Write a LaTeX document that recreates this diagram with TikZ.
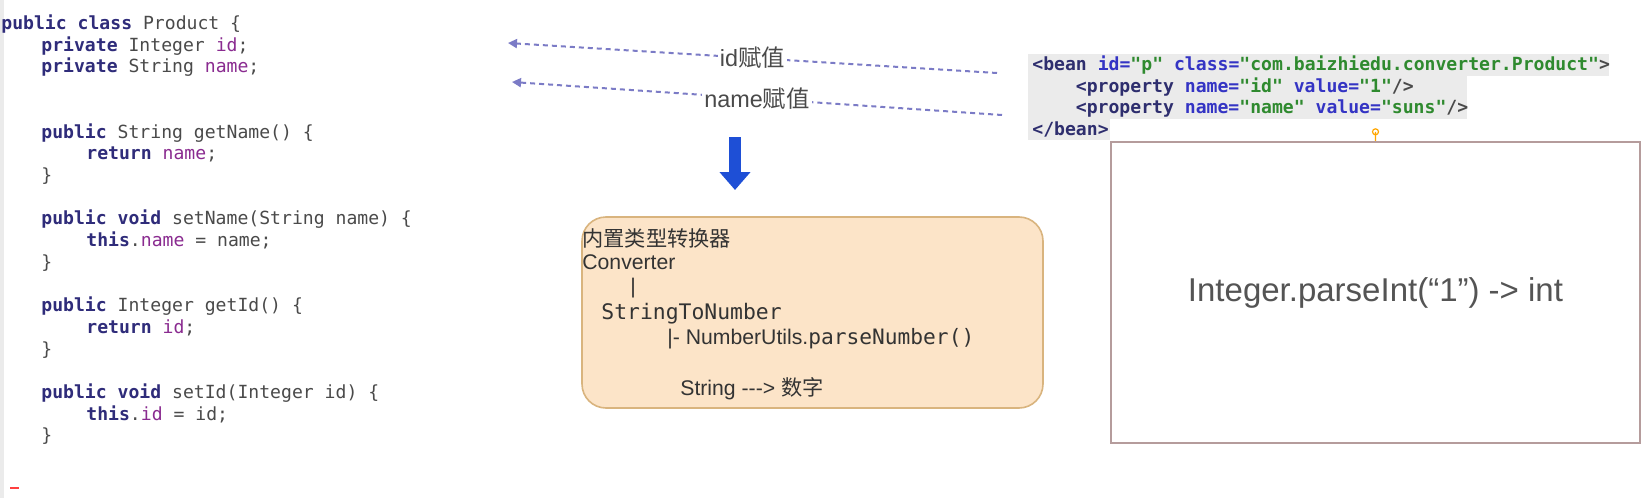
\documentclass[tikz,border=0pt]{standalone}
\usepackage{fontspec}
\setmainfont{Liberation Sans}
\setmonofont{DejaVu Sans Mono}
\newfontfamily\cjk{Noto Sans CJK SC}
\usetikzlibrary{arrows.meta, positioning}
\definecolor{jvKw}{HTML}{2F2C7A}
\definecolor{jvFld}{HTML}{8A2B90}
\definecolor{jvTxt}{HTML}{4A4A4A}
\definecolor{xmAttr}{HTML}{3434C4}
\definecolor{xmVal}{HTML}{2F8A2F}
\definecolor{xmTag}{HTML}{2E2E6E}
\definecolor{xmHl}{HTML}{EBEBEB}
\definecolor{dashBlue}{HTML}{7B7BC6}
\definecolor{tipBlue}{HTML}{3535D0}
\definecolor{downBlue}{HTML}{1E4FD6}
\definecolor{convFill}{HTML}{FCE4C8}
\definecolor{convLine}{HTML}{D9B47E}
\definecolor{boxLine}{HTML}{B59C9C}
\newcommand{\jkw}[1]{{\bfseries\color{jvKw}#1}}
\newcommand{\jfd}[1]{{\color{jvFld}#1}}
\newcommand{\xat}[1]{{\color{xmAttr}#1}}
\newcommand{\xvl}[1]{{\color{xmVal}#1}}
\newcommand{\xtg}[1]{{\color{xmTag}#1}}

\begin{document}
\begin{tikzpicture}[
  x=0.5pt, y=-0.5pt,
  code/.style={anchor=base west, inner sep=0pt, text=jvTxt,
               font=\ttfamily\fontsize{9.05}{11}\selectfont},
  xml/.style={code, font=\ttfamily\bfseries\fontsize{9.05}{11}\selectfont},
  lbl/.style={fill=white, inner sep=1pt, text=jvTxt,
              font=\fontsize{11.7}{14}\selectfont},
  assign/.style={-{Triangle[length=4.5pt, width=4.5pt]}, color=dashBlue,
                 line width=1pt, dash pattern=on 2.5pt off 2pt},
  bigdown/.style={-{Triangle[length=9pt, width=15pt]}, color=downBlue,
                  line width=6pt},
  convbox/.style={draw=convLine, fill=convFill, line width=0.8pt,
                  rounded corners=12pt, minimum width=230.5pt,
                  minimum height=95.5pt},
  convtxt/.style={anchor=base west, inner sep=0pt, text=black!80,
                  font=\fontsize{10.6}{13}\selectfont},
  convmono/.style={convtxt, font=\ttfamily\fontsize{10.7}{13}\selectfont}
]
  \useasboundingbox (0,0) rectangle (1646,498);
  \fill[white] (0,0) rectangle (1646,498);
  \clip (0,0) rectangle (1646,498);
  \fill[black!8] (0,0) rectangle (4,498);

  % Java class
  \node[code] (j1) at (1,29.5) {\jkw{public class} Product \{};
  \node[code] (j2) at (41,51.2) {\jkw{private} Integer \jfd{id};};
  \node[code] (j3) at (41,72.9) {\jkw{private} String \jfd{name};};
  \node[code] (j4) at (41,138) {\jkw{public} String getName() \{};
  \node[code] (j5) at (86,159.7) {\jkw{return} \jfd{name};};
  \node[code] (j6) at (41,181.4) {\}};
  \node[code] (j7) at (41,224.8) {\jkw{public void} setName(String name) \{};
  \node[code] (j8) at (86,246.5) {\jkw{this}.\jfd{name} = name;};
  \node[code] (j9) at (41,268.2) {\}};
  \node[code] (j10) at (41,311.6) {\jkw{public} Integer getId() \{};
  \node[code] (j11) at (86,333.3) {\jkw{return} \jfd{id};};
  \node[code] (j12) at (41,355) {\}};
  \node[code] (j13) at (41,398.4) {\jkw{public void} setId(Integer id) \{};
  \node[code] (j14) at (86,420.1) {\jkw{this}.\jfd{id} = id;};
  \node[code] (j15) at (41,441.8) {\}};
  \draw[red!75, line width=1pt] (10,488) -- (19,488);

  % bean definition
  \fill[xmHl] (1028,54) rectangle (1609,76);
  \fill[xmHl] (1028,76) rectangle (1467,119);
  \fill[xmHl] (1028,119) rectangle (1110,140);
  \node[xml] (x1) at (1032,70.5) {\xtg{<bean} \xat{id=}\xvl{"p"} \xat{class=}\xvl{"com.baizhiedu.converter.Product"}>};
  \node[xml] (x2) at (1075.5,92) {\xtg{<property} \xat{name=}\xvl{"id"} \xat{value=}\xvl{"1"}/>};
  \node[xml] (x3) at (1075.5,113.5) {\xtg{<property} \xat{name=}\xvl{"name"} \xat{value=}\xvl{"suns"}/>};
  \node[xml] (x4) at (1032,135) {\xtg{</bean>}};

  % assignments
  \coordinate (idFrom) at (997,73);
  \coordinate (idTo) at (508,43);
  \coordinate (nmFrom) at (1002,115);
  \coordinate (nmTo) at (512,82);
  \draw[assign] (idFrom) -- node[lbl] (idLbl) {id{\cjk 赋值}} (idTo);
  \draw[assign] (nmFrom) -- node[lbl] (nmLbl) {name{\cjk 赋值}} (nmTo);
  \coordinate (dnTop) at (735,137);
  \coordinate (dnTip) at (735,190);
  \draw[bigdown] (dnTop) -- (dnTip);

  % converter
  \node[convbox] (conv) at (812.5,312.5) {};
  \node[convtxt] (ct1) at (582,246) {\cjk 内置类型转换器};
  \node[convtxt] (ct2) at (582,269.5) {Converter};
  \node[convtxt] (ct3) at (630,293.5) {|};
  \node[convmono] (ct4) at (601,319) {StringToNumber};
  \node[convtxt] (ct5) at (667,344) {|- NumberUtils.{\ttfamily parseNumber()}};
  \node[convtxt] (ct6) at (680,395) {String -{}-{}-> {\cjk 数字}};

  % parse box
  \node[draw=boxLine, line width=1.2pt, minimum width=264.5pt,
        minimum height=150.5pt, text=black!67,
        font=\fontsize{16.5}{20}\selectfont] (parse) at (1375.5,292.5)
        {Integer.parseInt(“1”) -> int};
  \draw[draw=orange!70!yellow, line width=0.6pt] (parse.north) -- ++(0,-9)
        circle[radius=3];
\end{tikzpicture}
\end{document}
